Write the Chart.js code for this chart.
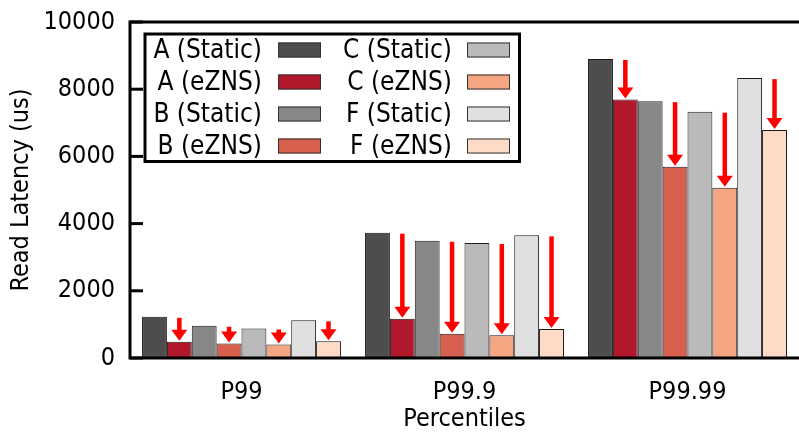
<!DOCTYPE html>
<html>
<head>
<meta charset="utf-8">
<script src="https://cdn.jsdelivr.net/npm/chart.js@4/dist/chart.umd.min.js"></script>
<style>
  html, body { margin: 0; padding: 0; background: #fff; }
  #wrap { width: 799px; height: 434px; position: relative; }
</style>
</head>
<body>
<div id="wrap"><canvas id="chart"></canvas></div>
<script>
const FONT = "'DejaVu Sans Condensed', 'DejaVu Sans', sans-serif";

const percentiles = ['P99', 'P99.9', 'P99.99'];
const yTicks = [0, 2000, 4000, 6000, 8000, 10000];

const aStatic = [1225, 3730, 8900];
const aEzns   = [485, 1165, 7690];
const bStatic = [960, 3490, 7645];
const bEzns   = [435, 720, 5690];
const cStatic = [880, 3420, 7330];
const cEzns   = [405, 675, 5065];
const fStatic = [1120, 3650, 8330];
const fEzns   = [495, 860, 6785];

const series = [
    { label: 'A (Static)', data: aStatic, color: '#4d4d4d' },
    { label: 'A (eZNS)',   data: aEzns,   color: '#b2182b' },
    { label: 'B (Static)', data: bStatic, color: '#878787' },
    { label: 'B (eZNS)',   data: bEzns,   color: '#d6604d' },
    { label: 'C (Static)', data: cStatic, color: '#bababa' },
    { label: 'C (eZNS)',   data: cEzns,   color: '#f4a582' },
    { label: 'F (Static)', data: fStatic, color: '#e0e0e0' },
    { label: 'F (eZNS)',   data: fEzns,   color: '#fddbc7' }
];

// frame + inward ticks, arrows, legend box
const decorations = {
    id: 'decorations',
    afterDatasetsDraw(chart) {
        const { ctx, scales } = chart;
        const y = scales.y;

        // red arrows: static value -> eZNS value
        ctx.save();
        ctx.fillStyle = '#ff0000';
        for (let d = 1; d < series.length; d += 2) {
            const meta = chart.getDatasetMeta(d);
            meta.data.forEach((bar, i) => {
                const top = y.getPixelForValue(series[d - 1].data[i]) + 1;
                const tip = bar.y - 1;
                const headH = 11, headW = 16, shaft = 4.5;
                ctx.fillRect(bar.x - shaft / 2, top, shaft, tip - headH - top + 1);
                ctx.beginPath();
                ctx.moveTo(bar.x - headW / 2, tip - headH);
                ctx.lineTo(bar.x + headW / 2, tip - headH);
                ctx.lineTo(bar.x, tip);
                ctx.closePath();
                ctx.fill();
            });
        }
        ctx.restore();
    },
    afterDraw(chart) {
        const { ctx, chartArea: area, scales } = chart;
        const y = scales.y;
        ctx.save();
        ctx.strokeStyle = '#000';
        ctx.lineWidth = 3;
        ctx.beginPath();
        ctx.moveTo(area.right + 5, area.top);
        ctx.lineTo(area.left, area.top);
        ctx.lineTo(area.left, area.bottom);
        ctx.lineTo(area.right + 5, area.bottom);
        ctx.stroke();
        yTicks.forEach(v => {
            const py = y.getPixelForValue(v);
            ctx.beginPath();
            ctx.moveTo(area.left, py);
            ctx.lineTo(area.left + 13, py);
            ctx.stroke();
        });

        // legend
        ctx.fillStyle = '#fff';
        ctx.fillRect(145, 34, 374, 127);
        ctx.strokeRect(145, 34, 374.5, 127.5);
        ctx.font = '26px ' + FONT;
        ctx.textAlign = 'right';
        ctx.textBaseline = 'middle';
        ctx.lineWidth = 1;
        series.forEach((s, i) => {
            const col = Math.floor(i / 4), row = i % 4;
            const cy = 50 + row * 32;
            const textX = col === 0 ? 262 : 452;
            const swX = col === 0 ? 278 : 467;
            ctx.fillStyle = '#000';
            ctx.fillText(s.label, textX, cy + 1);
            ctx.fillStyle = s.color;
            ctx.fillRect(swX, cy - 7.5, 43, 15);
            ctx.strokeStyle = '#333';
            ctx.strokeRect(swX + 0.5, cy - 7, 42, 14);
        });
        ctx.restore();
    }
};

new Chart(document.getElementById('chart'), {
    type: 'bar',
    data: {
        labels: percentiles,
        datasets: series.map(s => ({
            label: s.label,
            data: s.data,
            backgroundColor: s.color,
            borderColor: '#1a1a1a',
            borderWidth: 1,
            categoryPercentage: 0.892,
            barPercentage: 1.0
        }))
    },
    options: {
        responsive: true,
        maintainAspectRatio: false,
        animation: false,
        layout: { padding: { top: 22, right: 0, left: 0, bottom: 0 } },
        plugins: {
            legend: { display: false },
            tooltip: { enabled: false }
        },
        scales: {
            x: {
                grid: { display: false, drawTicks: false },
                border: { display: false },
                ticks: { color: '#000', padding: 19, font: { family: FONT, size: 25 } },
                title: {
                    display: true,
                    text: 'Percentiles',
                    color: '#000',
                    padding: { top: 0, bottom: 0 },
                    font: { family: FONT, size: 25 }
                },
                afterFit(scale) {
                    scale.height = 76;
                    scale.paddingLeft = 0;
                    scale.paddingRight = 0;
                }
            },
            y: {
                min: 0,
                max: 10000,
                afterBuildTicks(scale) { scale.ticks = yTicks.map(v => ({ value: v })); },
                grid: { display: false, drawTicks: false },
                border: { display: false },
                ticks: {
                    color: '#000',
                    padding: 15,
                    font: { family: FONT, size: 25 },
                    callback: v => String(v)
                },
                title: {
                    display: true,
                    text: 'Read Latency (us)',
                    color: '#000',
                    padding: { top: 6, bottom: 0 },
                    font: { family: FONT, size: 25 }
                },
                afterFit(scale) {
                    scale.width = 130;
                    scale.paddingTop = 0;
                    scale.paddingBottom = 0;
                }
            }
        }
    },
    plugins: [decorations]
});
</script>
</body>
</html>
